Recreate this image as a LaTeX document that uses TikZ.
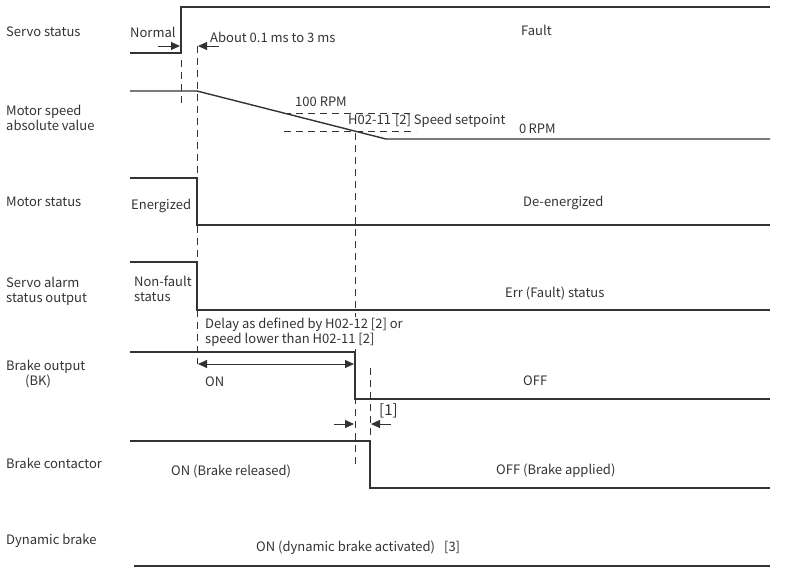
\documentclass[tikz,border=0pt]{standalone}
\usepackage{fontspec}
\setmainfont{Noto Sans CJK SC}
\usetikzlibrary{arrows.meta}
\definecolor{ink}{HTML}{333333}
\tikzset{
  wave/.style={draw=ink, line width=1.4pt},
  guide/.style={draw=ink, line width=0.9pt, dash pattern=on 7pt off 5pt},
  lbl/.style={anchor=west, inner sep=0pt, text=ink, font=\fontsize{13}{15}\selectfont},
  txt/.style={anchor=west, inner sep=0pt, text=ink, font=\fontsize{13}{15}\selectfont},
  dim/.style={draw=ink, line width=0.9pt, -{Triangle[length=9pt,width=8pt]}},
  dimboth/.style={draw=ink, line width=0.9pt, {Triangle[length=9pt,width=8pt]}-{Triangle[length=9pt,width=8pt]}},
}
\begin{document}
\begin{tikzpicture}[x=1pt,y=-1pt]
\useasboundingbox (0,0) rectangle (785,568);
% Row labels
\node[lbl] (l1) at (6,32) {Servo status};
\node[lbl, align=left] (l2) at (6,118) {Motor speed\\absolute value};
\node[lbl] (l3) at (6,202) {Motor status};
\node[lbl, align=left] (l4) at (6,291) {Servo alarm\\status output};
\node[lbl, align=left] (l5) at (6,374) {Brake output\\\hspace*{19pt}(BK)};
\node[lbl] (l6) at (6,463) {Brake contactor};
\node[lbl] (l7) at (6,541) {Dynamic brake};

% Servo status
\coordinate (s0) at (130,53); \coordinate (s1) at (181,53);
\coordinate (s2) at (181,7); \coordinate (s3) at (770,7);
\draw[wave] (s0) -- (s1) -- (s2) -- (s3);
\node[txt] (normal) at (130,32) {Normal};
\node[txt] (about) at (210,37) {About 0.1 ms to 3 ms};
\node[txt] (fault) at (521,30) {Fault};
\coordinate (a1s) at (158,46); \coordinate (a1e) at (180,46);
\coordinate (a2s) at (219,46); \coordinate (a2e) at (198,46);
\draw[dim] (a1s) -- (a1e);
\draw[dim] (a2s) -- (a2e);

% guide lines
\coordinate (g1t) at (181,60); \coordinate (g1b) at (181,106);
\draw[guide] (g1t) -- (g1b);
\coordinate (g2t) at (197,46); \coordinate (g2b) at (197,364);
\draw[guide] (g2t) -- (g2b);

% Motor speed
\coordinate (m0) at (130,91); \coordinate (m1) at (197,91);
\coordinate (m2) at (386,139); \coordinate (m3) at (770,139);
\draw[wave] (m0) -- (m1) -- (m2) -- (m3);
\coordinate (h1a) at (284,113); \coordinate (h1b) at (410,113);
\coordinate (h2a) at (284,131); \coordinate (h2b) at (416,131);
\draw[guide] (h1a) -- (h1b);
\draw[guide] (h2a) -- (h2b);
\node[txt] (rpm100) at (295,102) {100 RPM};
\node[txt] (setp) at (348,121) {H02-11\hspace{4pt}[2] Speed setpoint};
\node[txt] (rpm0) at (519,129) {0\,RPM};
\coordinate (v1t) at (355,133); \coordinate (v1b) at (355,466);
\draw[guide] (v1t) -- (v1b);

% Motor status
\coordinate (ms0) at (130,178); \coordinate (ms1) at (197,178);
\coordinate (ms2) at (197,225); \coordinate (ms3) at (770,225);
\draw[wave] (ms0) -- (ms1) -- (ms2) -- (ms3);
\node[txt] (energ) at (131,206) {Energized};
\node[txt] (deenerg) at (523,203) {De-energized};

% Servo alarm
\coordinate (sa0) at (130,262); \coordinate (sa1) at (197,262);
\coordinate (sa2) at (197,310); \coordinate (sa3) at (770,310);
\draw[wave] (sa0) -- (sa1) -- (sa2) -- (sa3);
\node[txt, align=left] (nonf) at (134,289) {Non-fault\\status};
\node[txt] (err) at (505,293) {Err (Fault) status};
\node[txt, align=left, fill=white, inner sep=1pt] (delay) at (204,332) {Delay as defined by H02-12 [2] or\\speed lower than H02-11 [2]};

% Brake output
\coordinate (b0) at (130,352); \coordinate (b1) at (355,352);
\coordinate (b2) at (355,399); \coordinate (b3) at (770,399);
\draw[wave] (b0) -- (b1) -- (b2) -- (b3);
\coordinate (d1) at (198,364); \coordinate (d2) at (354,364);
\draw[dimboth] (d1) -- (d2);
\node[txt] (on) at (205,382) {ON};
\node[txt] (off) at (523,381) {OFF};
\coordinate (v2t) at (370,368); \coordinate (v2b) at (370,441);
\draw[guide] (v2t) -- (v2b);
\coordinate (a3s) at (334,424); \coordinate (a3e) at (354,424);
\coordinate (a4s) at (391,424); \coordinate (a4e) at (371,424);
\draw[dim] (a3s) -- (a3e);
\draw[dim] (a4s) -- (a4e);
\node[txt, font=\fontsize{15}{17}\selectfont] (one) at (379,411) {[1]};

% Brake contactor
\coordinate (c0) at (130,441); \coordinate (c1) at (370,441);
\coordinate (c2) at (370,488); \coordinate (c3) at (770,488);
\draw[wave] (c0) -- (c1) -- (c2) -- (c3);
\node[txt] (conon) at (171,471) {ON (Brake released)};
\node[txt] (conoff) at (496,471) {OFF (Brake applied)};

% Dynamic brake
\coordinate (db0) at (134,566); \coordinate (db1) at (770,566);
\draw[wave] (db0) -- (db1);
\node[txt] (dbon) at (256,548) {ON (dynamic brake activated)\hspace{9pt}[3]};
\end{tikzpicture}
\end{document}
